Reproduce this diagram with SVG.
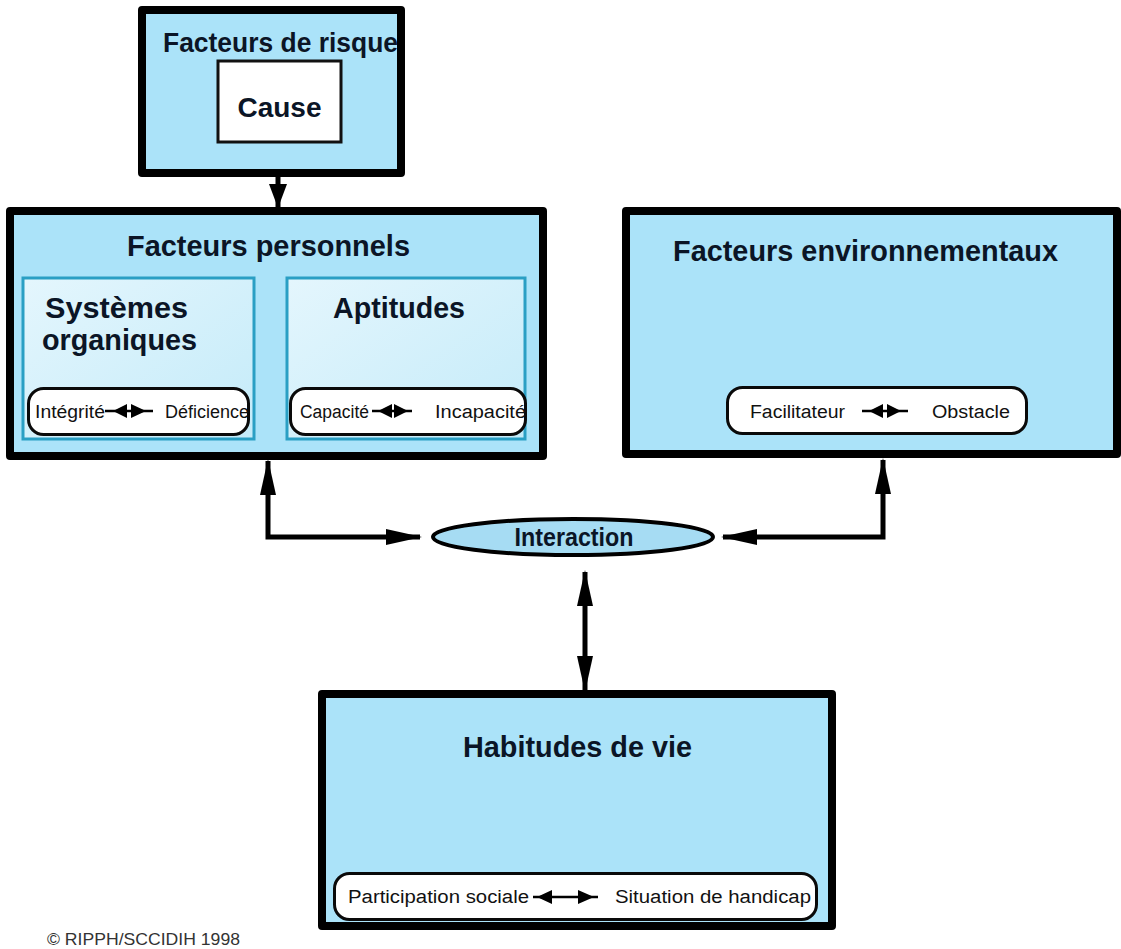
<svg xmlns="http://www.w3.org/2000/svg" width="1121" height="949" viewBox="0 0 1121 949">
<style>
.box{fill:#abe3f9;stroke:#000;stroke-width:8;stroke-linejoin:round}
.inner{fill:url(#ig);stroke:#2a9fc4;stroke-width:3}
.pill{fill:#fff;stroke:#0a0a0a;stroke-width:3}
.ttl{font-family:"Liberation Sans",Arial,sans-serif;font-weight:bold;fill:#0b1526}
.pt{font-family:"Liberation Sans",Arial,sans-serif;font-size:18px;fill:#111}
.con{fill:none;stroke:#000;stroke-width:5}
.sm{fill:none;stroke:#000;stroke-width:2.5}
</style>
<defs>
<linearGradient id="ig" x1="0" y1="0" x2="1" y2="1">
<stop offset="0" stop-color="#e4f6fd"/>
<stop offset="1" stop-color="#c4ebf9"/>
</linearGradient>
<marker id="ah" viewBox="0 0 36 16" refX="34" refY="8" markerWidth="36" markerHeight="16" markerUnits="userSpaceOnUse" orient="auto-start-reverse">
<path d="M0,0 L36,8 L0,16 Z" fill="#000"/>
</marker>
<marker id="ahc" viewBox="0 0 24 18" refX="23" refY="9" markerWidth="24" markerHeight="18" markerUnits="userSpaceOnUse" orient="auto-start-reverse">
<path d="M0,0 L24,9 L0,18 Z" fill="#000"/>
</marker>
<marker id="ahs" viewBox="0 0 16 16" refX="15" refY="8" markerWidth="16" markerHeight="16" markerUnits="userSpaceOnUse" orient="auto-start-reverse">
<path d="M0,0 L16,8 L0,16 Z" fill="#000"/>
</marker>
</defs>
<rect width="1121" height="949" fill="#fff"/>

<g id="connectors">
<path class="con" d="M278,143 L278,207" marker-end="url(#ahc)"/>
<path class="con" d="M268,461 L268,537 L420,537" marker-start="url(#ah)" marker-end="url(#ah)"/>
<path class="con" d="M723,537 L883,537 L883,460" marker-start="url(#ah)" marker-end="url(#ah)"/>
<path class="con" d="M585,572 L585,690" marker-start="url(#ah)" marker-end="url(#ah)"/>
<path d="M253,362 L290,362" stroke="#000" stroke-width="4" marker-start="url(#ahs)" marker-end="url(#ahs)"/>
</g>

<g id="risque">
<rect class="box" x="142" y="10" width="259" height="163"/>
<text class="ttl" x="163" y="52" font-size="27" textLength="235" lengthAdjust="spacingAndGlyphs">Facteurs de risque</text>
</g>
<g id="cause">
<rect x="218" y="61" width="123" height="81" fill="#fff" stroke="#111" stroke-width="3"/>
<text class="ttl" x="279.5" y="117" font-size="28" text-anchor="middle">Cause</text>
</g>

<g id="personnels">
<rect class="box" x="10" y="211" width="533" height="245"/>
<text class="ttl" x="127" y="256" font-size="30" textLength="283" lengthAdjust="spacingAndGlyphs">Facteurs personnels</text>
</g>
<g id="systemes">
<rect class="inner" x="23" y="278" width="231" height="161"/>
<text class="ttl" x="45" y="318" font-size="30" textLength="143" lengthAdjust="spacingAndGlyphs">Systèmes</text>
<text class="ttl" x="42" y="350" font-size="30" textLength="155" lengthAdjust="spacingAndGlyphs">organiques</text>
<rect class="pill" x="28.5" y="388.5" width="220" height="46" rx="15"/>
<text class="pt" x="35" y="418" textLength="70" lengthAdjust="spacingAndGlyphs">Intégrité</text>
<line class="sm" x1="105" y1="411" x2="153" y2="411"/>
<path d="M113,411 L127,404 L127,418 Z M146,411 L131,404 L131,418 Z" fill="#000"/>
<text class="pt" x="165" y="418" textLength="84" lengthAdjust="spacingAndGlyphs">Déficience</text>
</g>
<g id="aptitudes">
<rect class="inner" x="287" y="278" width="238" height="161"/>
<text class="ttl" x="333" y="318" font-size="30" textLength="132" lengthAdjust="spacingAndGlyphs">Aptitudes</text>
<rect class="pill" x="290.5" y="388.5" width="235" height="46" rx="15"/>
<text class="pt" x="300" y="418" textLength="69" lengthAdjust="spacingAndGlyphs">Capacité</text>
<line class="sm" x1="372" y1="411" x2="412" y2="411"/>
<path d="M378,411 L392,404 L392,418 Z M408,411 L394,404 L394,418 Z" fill="#000"/>
<text class="pt" x="435" y="418" textLength="91" lengthAdjust="spacingAndGlyphs">Incapacité</text>
</g>

<g id="environnementaux">
<rect class="box" x="626" y="211" width="491" height="243"/>
<text class="ttl" x="673" y="261" font-size="30" textLength="385" lengthAdjust="spacingAndGlyphs">Facteurs environnementaux</text>
<rect class="pill" x="727.5" y="387.5" width="299" height="46" rx="15"/>
<text class="pt" x="750" y="418" textLength="95" lengthAdjust="spacingAndGlyphs">Facilitateur</text>
<line class="sm" x1="862" y1="411" x2="908" y2="411"/>
<path d="M869,411 L883,404 L883,418 Z M901,411 L887,404 L887,418 Z" fill="#000"/>
<text class="pt" x="932" y="418" textLength="78" lengthAdjust="spacingAndGlyphs">Obstacle</text>
</g>

<g id="interaction">
<ellipse cx="573" cy="537" rx="140" ry="18" fill="#a6dcf3" stroke="#000" stroke-width="4"/>
<text class="ttl" x="574" y="546" font-size="25" text-anchor="middle" textLength="119" lengthAdjust="spacingAndGlyphs">Interaction</text>
</g>

<g id="habitudes">
<rect class="box" x="322" y="694" width="510" height="232"/>
<text class="ttl" x="463" y="757" font-size="30" textLength="229" lengthAdjust="spacingAndGlyphs">Habitudes de vie</text>
<rect class="pill" x="334.5" y="873.5" width="482" height="46" rx="15"/>
<text class="pt" x="348" y="903" textLength="181" lengthAdjust="spacingAndGlyphs">Participation sociale</text>
<line class="sm" x1="533" y1="897" x2="598" y2="897"/>
<path d="M537,897 L552,890 L552,904 Z M594,897 L578,890 L578,904 Z" fill="#000"/>
<text class="pt" x="615" y="903" textLength="196" lengthAdjust="spacingAndGlyphs">Situation de handicap</text>
</g>

<text x="47" y="945" font-family="'Liberation Sans',Arial,sans-serif" font-size="17" fill="#333" textLength="193" lengthAdjust="spacingAndGlyphs">© RIPPH/SCCIDIH 1998</text>
</svg>
